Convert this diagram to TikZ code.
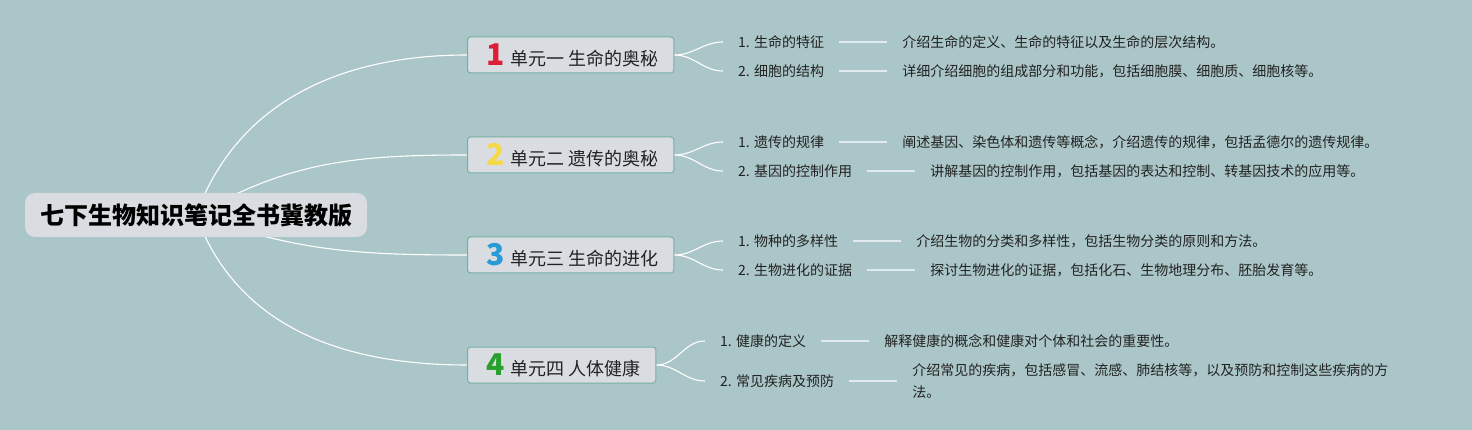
\documentclass[tikz,border=0pt]{standalone}
\usepackage{fontspec}
\newfontfamily\cjk{Noto Sans CJK SC}
\usepackage{xcolor}
\usetikzlibrary{positioning,backgrounds}

\definecolor{canvas}{RGB}{171,198,200}
\definecolor{boxgray}{RGB}{217,221,225}
\definecolor{boxedge}{RGB}{118,174,164}
\definecolor{inkdark}{RGB}{34,34,34}
\definecolor{numred}{RGB}{222,30,55}
\definecolor{numyellow}{RGB}{246,216,70}
\definecolor{numblue}{RGB}{40,155,215}
\definecolor{numgreen}{RGB}{40,160,45}
\definecolor{twig}{RGB}{224,233,235}

\newcommand{\unitno}[2]{\hspace*{4pt}{\fontsize{30}{30}\selectfont\bfseries\color{#1}#2}\hspace{6pt}}

\begin{document}
\begin{tikzpicture}[x=1pt, y=-1pt,
  rootbox/.style={rectangle, rounded corners=10pt, fill=boxgray,
                  minimum width=342pt, minimum height=44pt, text=black,
                  font=\cjk\fontsize{24}{24}\selectfont\bfseries},
  unitbox/.style={rectangle, draw=boxedge, line width=1pt, rounded corners=3pt,
                  fill=boxgray, minimum height=36pt, inner xsep=15pt,
                  anchor=west, text=inkdark, font=\cjk\fontsize{18}{18}\selectfont},
  subitem/.style={anchor=west, inner xsep=15pt, text=inkdark,
                  font=\cjk\fontsize{14}{22}\selectfont},
  descitem/.style={inner xsep=15pt, align=left, text=inkdark,
                   font=\cjk\fontsize{14}{22}\selectfont},
  bigline/.style={draw=white, line width=1.1pt},
  midline/.style={draw=white, line width=1.1pt},
  leafline/.style={draw=twig, line width=1.8pt}
]

\begin{scope}[on background layer]
  \fill[canvas] (0,0) rectangle (1472,430);
\end{scope}

\node[rootbox] (root) at (196,215) {七下生物知识笔记全书冀教版};

\node[unitbox] (u1) at (467,55)  {\unitno{numred}{1}单元一 生命的奥秘};
\node[unitbox] (u2) at (467,155) {\unitno{numyellow}{2}单元二 遗传的奥秘};
\node[unitbox] (u3) at (467,255) {\unitno{numblue}{3}单元三 生命的进化};
\node[unitbox] (u4) at (467,365) {\unitno{numgreen}{4}单元四 人体健康};

\node[subitem] (s11) at (723,42)  {1. 生命的特征};
\node[subitem] (s12) at (723,71)  {2. 细胞的结构};
\node[subitem] (s21) at (723,142) {1. 遗传的规律};
\node[subitem] (s22) at (723,171) {2. 基因的控制作用};
\node[subitem] (s31) at (723,241) {1. 物种的多样性};
\node[subitem] (s32) at (723,270) {2. 生物进化的证据};
\node[subitem] (s41) at (705,341) {1. 健康的定义};
\node[subitem] (s42) at (705,381) {2. 常见疾病及预防};

\node[descitem, right=48pt of s11] (d11) {介绍生命的定义、生命的特征以及生命的层次结构。};
\node[descitem, right=48pt of s12] (d12) {详细介绍细胞的组成部分和功能，包括细胞膜、细胞质、细胞核等。};
\node[descitem, right=48pt of s21] (d21) {阐述基因、染色体和遗传等概念，介绍遗传的规律，包括孟德尔的遗传规律。};
\node[descitem, right=48pt of s22] (d22) {讲解基因的控制作用，包括基因的表达和控制、转基因技术的应用等。};
\node[descitem, right=48pt of s31] (d31) {介绍生物的分类和多样性，包括生物分类的原则和方法。};
\node[descitem, right=48pt of s32] (d32) {探讨生物进化的证据，包括化石、生物地理分布、胚胎发育等。};
\node[descitem, right=48pt of s41] (d41) {解释健康的概念和健康对个体和社会的重要性。};
\node[descitem, right=48pt of s42] (d42) {介绍常见的疾病，包括感冒、流感、肺结核等，以及预防和控制这些疾病的方\\法。};

\begin{scope}[on background layer]
  \draw[bigline] (root.center) to[out=70,in=180]  (u1.west);
  \draw[bigline] (root.center) to[out=30,in=180]  (u2.west);
  \draw[bigline] (root.center) to[out=-20,in=180] (u3.west);
  \draw[bigline] (root.center) to[out=-70,in=180] (u4.west);

  \foreach \u in {1,...,4}{
    \draw[midline] (u\u.east) to[out=0,in=180] (s\u1.west);
    \draw[midline] (u\u.east) to[out=0,in=180] (s\u2.west);
    \draw[leafline] (s\u1) -- (d\u1);
    \draw[leafline] (s\u2) -- (d\u2);
  }
\end{scope}

\end{tikzpicture}
\end{document}
